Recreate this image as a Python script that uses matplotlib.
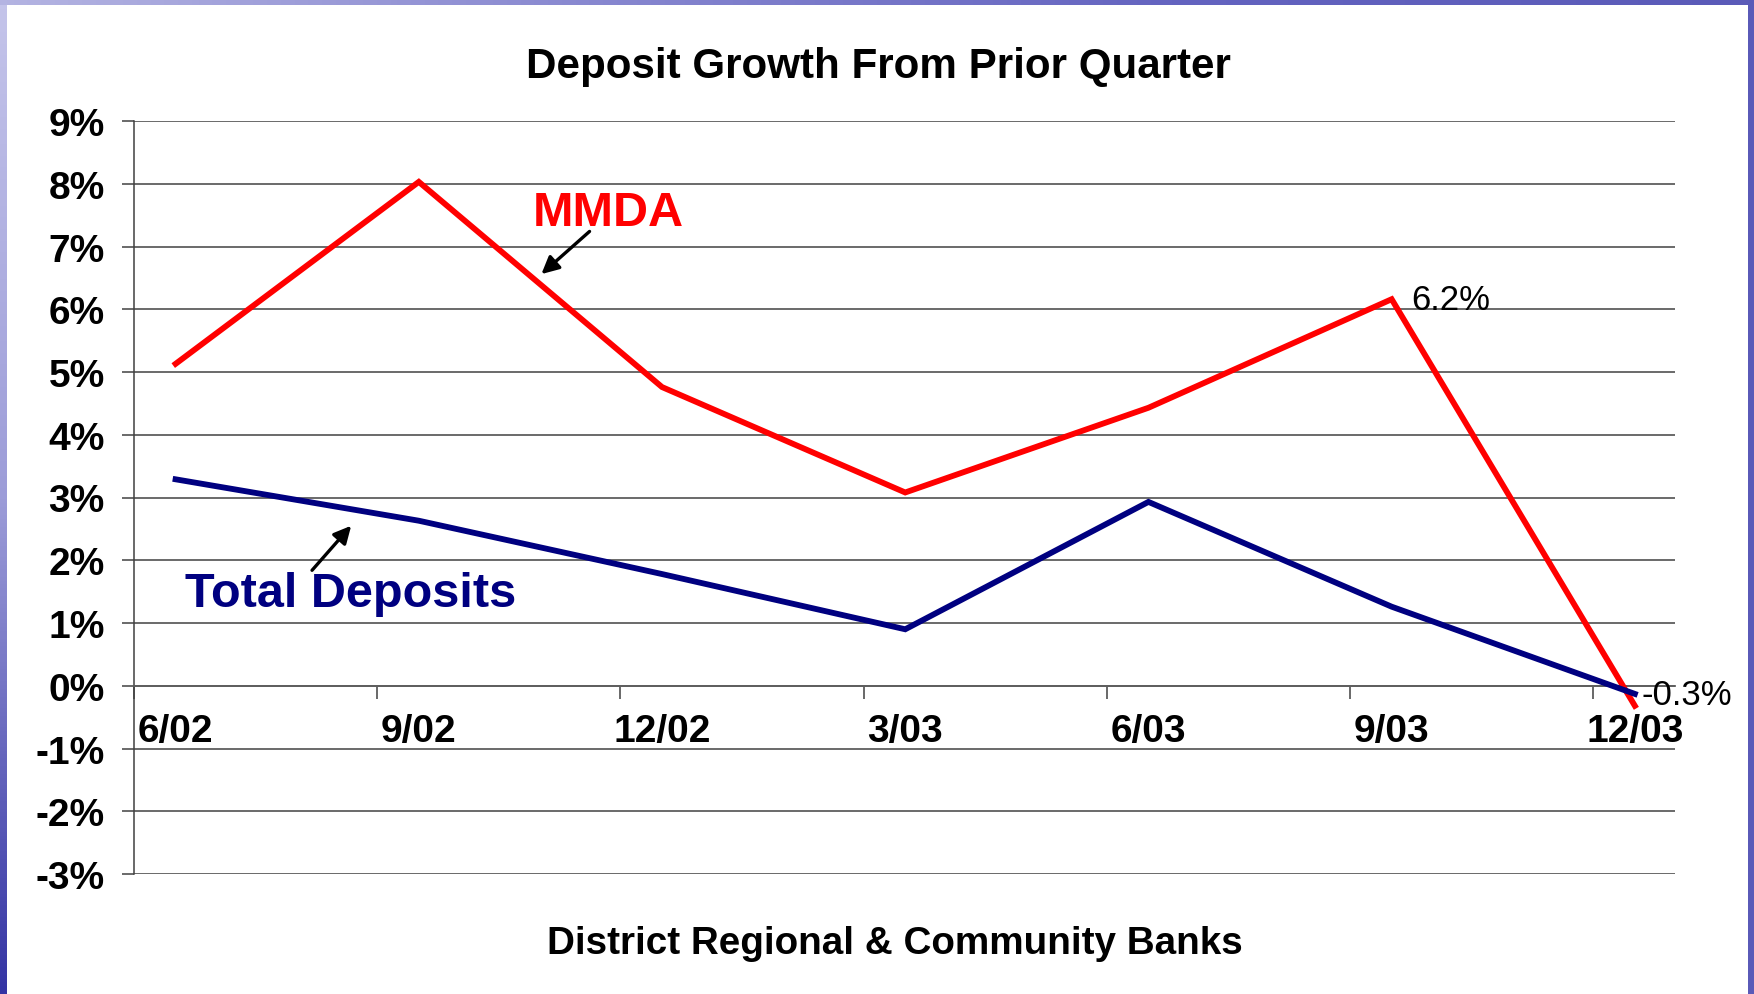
import matplotlib
matplotlib.use("Agg")
import matplotlib.pyplot as plt
import numpy as np
from matplotlib.patches import Rectangle
from matplotlib.colors import LinearSegmentedColormap

plt.rcParams['font.family'] = ['Liberation Sans', 'DejaVu Sans']

# ---- data ----
quarters = ["6/02", "9/02", "12/02", "3/03", "6/03", "9/03", "12/03"]
mmda = [5.13, 8.03, 4.76, 3.08, 4.43, 6.16, -0.32]
total_deposits = [3.29, 2.63, 1.78, 0.90, 2.93, 1.26, -0.13]
y_ticks = list(range(-3, 10))
y_tick_labels = [f"{v}%" for v in y_ticks]
title = "Deposit Growth From Prior Quarter"
footer = "District Regional & Community Banks"

W, H = 1754, 995
fig = plt.figure(figsize=(W / 100, H / 100), dpi=100)
fig.patch.set_facecolor('#5a5ab8')

# white slide area
fig.patches.append(Rectangle((7 / W, 0), (1748 - 7) / W, (H - 6) / H,
                             transform=fig.transFigure, facecolor='white',
                             edgecolor='none', zorder=-10))
grad = np.linspace(0, 1, 256).reshape(-1, 1)
# left gradient strip
axl = fig.add_axes([0, 0, 7 / W, 1 - 6 / H], zorder=-5)
cm_left = LinearSegmentedColormap.from_list('l', ['#c4c4ea', '#9c9cd8', '#3434a4'])
axl.imshow(grad, aspect='auto', cmap=cm_left, extent=[0, 1, 0, 1])
axl.axis('off')
# top gradient strip
axt = fig.add_axes([0, 1 - 6 / H, 1, 6 / H], zorder=-5)
cm_top = LinearSegmentedColormap.from_list('t', ['#b4b4e2', '#8888d0', '#6464c0', '#5a5ab8'])
axt.imshow(grad.T, aspect='auto', cmap=cm_top, extent=[0, 1, 0, 1])
axt.axis('off')

# ---- main axes ----
ax = fig.add_axes([134 / W, 1 - 875 / H, (1675 - 134) / W, (875 - 122) / H], zorder=5)
ax.set_facecolor('none')
x = np.arange(len(quarters))
ax.set_xlim(-0.171, 6.165)
ax.set_ylim(-3, 9)

grid_color = '#5e5e5e'
ax.set_yticks(y_ticks)
ax.set_yticklabels(y_tick_labels, fontsize=28, fontweight='bold')
ax.yaxis.grid(True, color=grid_color, lw=1.3, zorder=1)
ax.set_axisbelow(True)
ax.tick_params(axis='y', length=9, width=1.3, color=grid_color, pad=12, direction='out')

for s in ['top', 'right']:
    ax.spines[s].set_visible(False)
ax.spines['left'].set_color('#404040')
ax.spines['left'].set_linewidth(1.1)
ax.spines['bottom'].set_position(('data', 0))
ax.spines['bottom'].set_color(grid_color)
ax.spines['bottom'].set_linewidth(1.3)

ax.set_xticks(x)
ax.set_xticklabels(quarters, fontsize=28, fontweight='bold')
ax.tick_params(axis='x', which='major', length=0, pad=19.5)
ax.set_xticks(np.arange(len(quarters)) - 0.171, minor=True)
ax.tick_params(axis='x', which='minor', length=9, width=1.1, color='#404040', direction='out')

ax.plot(x, mmda, color='#ff0000', lw=4.2, zorder=3, solid_joinstyle='miter')
ax.plot(x, total_deposits, color='#000080', lw=4.2, zorder=3, solid_joinstyle='miter')

# data labels
ax.annotate(f"{mmda[5]:.1f}%", xy=(x[5], mmda[5]), xytext=(14, 0), textcoords='offset points',
            ha='left', va='center', fontsize=25, color='black')
ax.annotate(f"{mmda[6]:.1f}%", xy=(x[6], mmda[6]), xytext=(5, 8.5), textcoords='offset points',
            ha='left', va='center', fontsize=25, color='black')

# series labels with arrows
ax.text(1.78, 7.54, "MMDA", color='#ff0000', fontsize=35, fontweight='bold',
        ha='center', va='center', zorder=4)
ax.annotate('', xy=(1.504, 6.56), xytext=(1.702, 7.24),
            arrowprops=dict(arrowstyle='-|>', lw=2.4, color='black', mutation_scale=26,
                            shrinkA=0, shrinkB=0), zorder=4)
ax.text(0.721, 1.47, "Total Deposits", color='#000080', fontsize=35, fontweight='bold',
        ha='center', va='center', zorder=4)
ax.annotate('', xy=(0.722, 2.55), xytext=(0.561, 1.84),
            arrowprops=dict(arrowstyle='-|>', lw=2.4, color='black', mutation_scale=26,
                            shrinkA=0, shrinkB=0), zorder=4)

fig.text(878 / W, 1 - 67 / H, title, ha='center', va='center', fontsize=30.3, fontweight='bold')
fig.text(895 / W, 1 - 944 / H, footer, ha='center', va='center', fontsize=27.8, fontweight='bold')

fig.savefig('out.png', dpi=100)
